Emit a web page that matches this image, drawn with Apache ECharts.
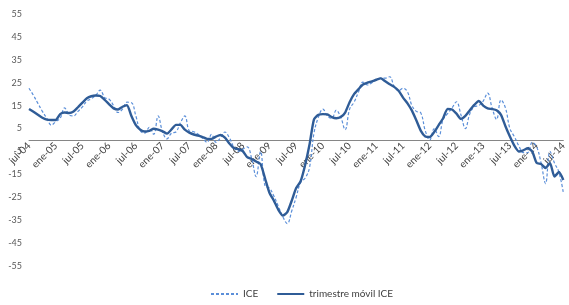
<!DOCTYPE html>
<html>
<head>
<meta charset="utf-8">
<script src="https://cdn.jsdelivr.net/npm/echarts@6/dist/echarts.min.js"></script>
<style>
  html, body { margin: 0; padding: 0; background: #fff; }
  #chart { width: 569px; height: 305px; }
</style>
</head>
<body>
<div id="chart"></div>
<script>
// meses (jul-04 .. jul-14)
var monthNames = ['ene', 'feb', 'mar', 'abr', 'may', 'jun', 'jul', 'ago', 'sep', 'oct', 'nov', 'dic'];
var categories = [];
for (var y = 4; y <= 14; y++) {
    for (var m = 0; m < 12; m++) {
        if (y === 4 && m < 6) continue;
        if (y === 14 && m > 6) continue;
        categories.push(monthNames[m] + '-' + (y < 10 ? '0' + y : y));
    }
}

// ICE mensual
var ice = [
    22.6, 19.5, 16, 12.5, 9.5, 6.5, 8, 9.5, 14, 11, 10.5, 12.5,
    14.5, 17, 18, 19.5, 21.8, 18.5, 17.8, 15, 12, 13.5, 16.5, 16.3,
    10.5, 4, 3, 5.5, 2.5, 10.5, 3.5, 0.5, 3, 3.5, 7.5, 10.5,
    4, 3.6, 2.5, 0.7, -1, 2.5, -1, 1, 3.5, 1, -3, -5,
    -4, -3, -8, -16, -5, -20, -21, -24.5, -29, -33.5, -36.5, -31,
    -25, -18.5, -16.7, -12, 3, 10, 13.5, 10.5, 9.5, 13, 10, 4.5,
    13.5, 16.5, 21, 25.3, 24, 25, 26.2, 27, 27, 27.6, 23.5, 21.5,
    22.6, 21, 15, 12.5, 11.8, 4, 0, 5, 1.5, 9, 11.5, 14,
    16.7, 11, 5, 11.5, 14.5, 15, 17, 20.5, 14, 9, 17.5, 14,
    5, 1.5, -2.5, -5.5, -5.5, -1, -3, -10, -19, -5, -10, -14,
    -23
];

// trimestre móvil ICE
var iceTrim = [
    13.5, 12.3, 11.0, 9.7, 8.9, 8.7, 8.7, 11.3, 12.0, 11.8, 12.4, 14.3,
    16.3, 18.2, 19.1, 19.4, 19.2, 17.5, 15.6, 13.8, 13.3, 14.5, 15.2, 10.5,
    6.5, 4.5, 3.7, 4.0, 4.9, 4.5, 3.8, 2.8, 4.6, 6.6, 6.6, 4.5,
    3.2, 2.4, 1.9, 1.3, 0.5, 0.5, 1.5, 2.2, 1.0, -1.5, -3.5, -4.0,
    -4.8, -7.5, -8.3, -9.4, -10.5, -16.7, -23.0, -26.5, -30.5, -33.0, -31.5, -26.5,
    -21.0, -18.0, -11.0, -2.0, 9.0, 11.0, 11.3, 11.2, 10.0, 9.5, 10.0, 12.0,
    16.5, 20.0, 22.2, 24.2, 25.0, 25.6, 26.3, 26.9, 25.6, 24.3, 23.2, 21.5,
    18.5, 16.0, 12.8, 8.5, 4.0, 1.5, 1.3, 3.5, 6.5, 9.5, 13.6, 13.3,
    11.5, 9.2, 10.5, 13.0, 15.3, 17.0, 15.0, 13.8, 13.5, 13.0, 11.0, 6.0,
    1.5, -2.5, -5.0, -4.5, -3.6, -5.0, -10.0, -10.5, -12.2, -10.0, -16.0, -14.0,
    -17.5
];

var gridTop = 14, gridBottom = 39, chartH = 305;
// eje X cruzando en cero (min/max simétricos)
var zeroOffset = (chartH - gridTop - gridBottom) / 2;

var myChart = echarts.init(document.getElementById('chart'));

var option = {
    animation: false,
    textStyle: { fontFamily: 'Lato' },
    grid: {
        left: 29,
        right: 5,
        top: gridTop,
        bottom: gridBottom
    },
    legend: {
        left: 205,
        top: 284,
        itemWidth: 27,
        itemHeight: 10,
        itemGap: 18,
        itemStyle: { opacity: 0 },
        textStyle: { fontSize: 10, color: '#404040', fontFamily: 'Lato' },
        data: ['ICE', 'trimestre móvil ICE']
    },
    xAxis: {
        type: 'category',
        boundaryGap: false,
        data: categories,
        offset: -zeroOffset,
        axisLine: { onZero: false, lineStyle: { color: '#868686', width: 1 } },
        axisTick: { show: false },
        axisLabel: {
            interval: 5,
            rotate: 45,
            margin: 4,
            fontSize: 10,
            color: '#404040'
        }
    },
    yAxis: {
        type: 'value',
        min: -55,
        max: 55,
        interval: 10,
        axisLine: { show: false },
        axisTick: { show: false },
        splitLine: { show: false },
        axisLabel: {
            fontSize: 9,
            color: '#595959',
            margin: 7
        }
    },
    series: [
        {
            name: 'ICE',
            type: 'line',
            data: ice,
            symbol: 'none',
            smooth: 0.4,
            lineStyle: { color: '#5B8FD9', width: 1.2, type: [3, 2] },
            itemStyle: { color: '#5B8FD9' }
        },
        {
            name: 'trimestre móvil ICE',
            type: 'line',
            data: iceTrim,
            symbol: 'none',
            smooth: 0.2,
            lineStyle: { color: '#2F5C97', width: 2.4 },
            itemStyle: { color: '#2F5C97' }
        }
    ]
};

myChart.setOption(option);
</script>
</body>
</html>
